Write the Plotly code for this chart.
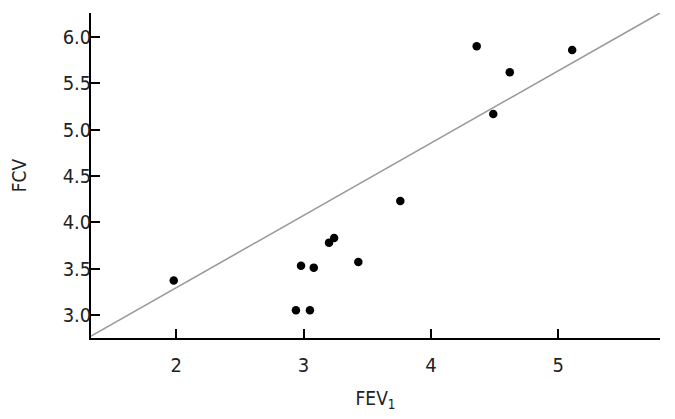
import plotly.graph_objects as go

fev1 = [1.98, 2.98, 3.08, 2.94, 3.05, 3.20, 3.24, 3.43, 3.76, 4.36, 4.49, 4.62, 5.11]
fcv = [3.37, 3.53, 3.51, 3.05, 3.05, 3.78, 3.83, 3.57, 4.23, 5.90, 5.17, 5.62, 5.86]

line_x = [1.33, 5.80]
line_y = [2.77, 6.26]

x_ticks = [2, 3, 4, 5]
y_ticks = [3.0, 3.5, 4.0, 4.5, 5.0, 5.5, 6.0]

FONT = "Liberation Sans Narrow, DejaVu Sans Condensed, Roboto Condensed, Arial Narrow, sans-serif"

fig = go.Figure()
fig.add_trace(go.Scatter(x=line_x, y=line_y, mode="lines",
                         line=dict(color="#9a9a9a", width=1.6),
                         hoverinfo="skip", showlegend=False))
fig.add_trace(go.Scatter(x=fev1, y=fcv, mode="markers",
                         marker=dict(color="black", size=8.5),
                         showlegend=False))

fig.update_layout(
    width=675, height=419,
    margin=dict(l=83, r=23, t=5, b=89),
    plot_bgcolor="white", paper_bgcolor="white",
    font=dict(family=FONT, size=20, color="#222"),
    xaxis=dict(range=[1.33, 5.80], tickvals=x_ticks, ticktext=[str(v) for v in x_ticks],
               showgrid=False, zeroline=False, showline=True, linecolor="black", linewidth=1.5,
               ticks="inside", ticklen=9, tickwidth=1.5, tickcolor="black",
               ticklabelstandoff=8,
               title=dict(text="FEV<sub>1</sub>", standoff=16, font=dict(size=19))),
    yaxis=dict(range=[2.75, 6.26], tickvals=y_ticks, ticktext=[f"{v:.1f}" for v in y_ticks],
               showgrid=False, zeroline=False, showline=True, linecolor="black", linewidth=1.5,
               ticks="inside", ticklen=9, tickwidth=1.5, tickcolor="black",
               ticklabelstandoff=-6,
               title=dict(text="FCV", standoff=32, font=dict(size=19))),
)

fig.write_html("out.html")
